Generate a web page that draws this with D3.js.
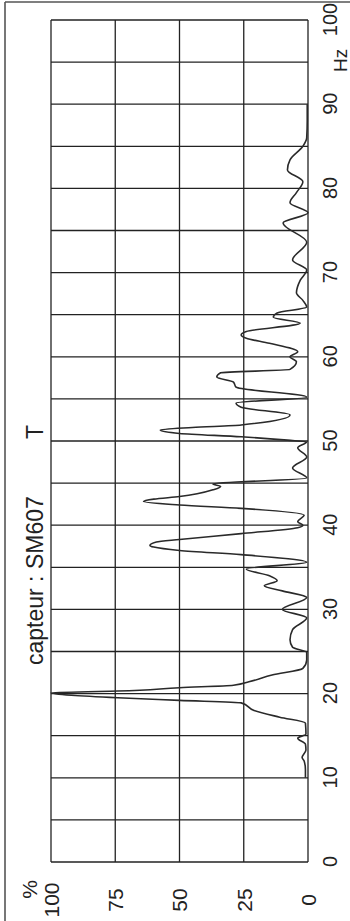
<!DOCTYPE html>
<html>
<head>
<meta charset="utf-8">
<script src="https://cdn.jsdelivr.net/npm/d3@7"></script>
<style>
  html, body { margin: 0; padding: 0; background: #fff; }
  svg { display: block; font-family: Arial, "Liberation Sans", sans-serif; }
</style>
</head>
<body>
<svg id="chart" width="350" height="921"></svg>
<script>
// spectrum (frequency in Hz, amplitude in %)
const freq = [10, 11, 12, 12.4, 13.3, 14.0, 14.7, 15.2, 16.5, 17.2, 18.0, 18.9, 19.2, 19.5, 20.1,
  20.3, 20.7, 21.0, 21.4, 22.2, 23.0, 24.0, 24.9, 25.5, 26.4, 27.6, 29.0, 30.0, 31.4,
  32.2, 32.8, 33.4, 34.0, 34.8, 35.6, 36.5, 37.0, 37.4, 37.6, 38.0, 38.3, 39.0, 39.7,
  40.0, 40.4, 41.2, 42.0, 42.4, 42.8, 43.1, 43.4, 44.2, 44.6, 44.9, 45.6, 46.8, 48.1,
  49.2, 49.9, 50.1, 50.5, 50.9, 51.3, 51.6, 51.9, 53.1, 54.0, 54.5, 55.2, 56.4, 57.0,
  57.6, 58.1, 58.5, 59.4, 60.0, 60.6, 61.6, 62.2, 62.6, 63.0, 64.0, 64.7, 65.2, 65.9,
  66.7, 67.6, 69.1, 70.3, 71.5, 73.6, 75.9, 77.1, 78.3, 79.5, 80.8, 82.2, 83.4, 85.0,
  86.0, 88.0, 90.0];
const ampl = [1, 1, 1.5, 2.3, 0.8, 1, 4, 0.8, 1, 11, 21, 26, 50, 74, 100,
  74, 50, 29, 23, 14, 2, 0.5, 0.5, 6, 7, 6, 0.5, 10, 0.5,
  10, 17, 12, 15, 24, 0.5, 26, 50, 60, 61.5, 59, 50, 26, 4,
  2, 4, 1.5, 26, 50, 64, 60, 50, 37, 34, 37, 0.5, 6, 0.5,
  4, 0.5, 8, 26, 50, 57.5, 45, 26, 7, 26, 28, 0.5, 28, 29,
  35.5, 34, 7, 4.5, 7, 4, 15, 24, 26, 24, 3, 13.5, 12, 0.5,
  2, 4.5, 3, 0.5, 6, 0.5, 9.7, 0, 7, 4.5, 2, 8, 7, 2,
  0.5, 0.3, 0.3];

const hzTicks = [0, 10, 20, 30, 40, 50, 60, 70, 80, 90, 100];
const hzGrid = d3.range(0, 101, 5);
const pctTicks = [0, 25, 50, 75, 100];
const title = 'capteur : SM607';
const titleRight = 'T';

// the scan is turned a quarter turn: draw it upright and rotate the group
const plotW = 842;   // Hz direction
const plotH = 257;   // % direction

const svg = d3.select('#chart');

// paper frame (left and top edges of the sheet)
svg.append('line').attr('x1', 5).attr('y1', 921).attr('x2', 5).attr('y2', 2)
  .attr('stroke', '#555').attr('stroke-width', 1.6);
svg.append('line').attr('x1', 5).attr('y1', 2).attr('x2', 350).attr('y2', 2)
  .attr('stroke', '#555').attr('stroke-width', 1.6);

const g = svg.append('g').attr('transform', 'translate(51,862) rotate(-90)');

const x = d3.scaleLinear().domain([0, 100]).range([0, plotW]);
const y = d3.scaleLinear().domain([0, 100]).range([plotH, 0]);

// grid
g.append('g').selectAll('line').data(hzGrid).join('line')
  .attr('x1', d => x(d)).attr('x2', d => x(d))
  .attr('y1', 0).attr('y2', plotH)
  .attr('stroke', '#222').attr('stroke-width', 1.3);
g.append('g').selectAll('line').data(pctTicks).join('line')
  .attr('x1', 0).attr('x2', plotW)
  .attr('y1', d => y(d)).attr('y2', d => y(d))
  .attr('stroke', '#222').attr('stroke-width', 1.3);

// Hz axis labels
const xAxis = g.append('g').attr('transform', `translate(0,${plotH})`)
  .call(d3.axisBottom(x).tickValues(hzTicks).tickSize(0).tickPadding(0));
xAxis.select('.domain').remove();
xAxis.selectAll('text')
  .attr('y', 22).attr('dy', '0.35em')
  .attr('font-size', 20).attr('fill', '#222');

g.append('text').attr('x', x(95.2)).attr('y', plotH + 32).attr('dy', '0.35em')
  .attr('text-anchor', 'middle').attr('font-size', 19).attr('fill', '#222').text('Hz');

// % axis labels
const yAxis = g.append('g')
  .call(d3.axisLeft(y).tickValues(pctTicks).tickSize(0).tickPadding(0));
yAxis.select('.domain').remove();
yAxis.selectAll('text')
  .attr('x', -38).attr('dy', '0.35em')
  .attr('text-anchor', 'middle')
  .attr('font-size', 21).attr('fill', '#222');

g.append('text').attr('x', -18).attr('y', y(100) - 21).attr('dy', '0.35em')
  .attr('text-anchor', 'end').attr('font-size', 21).attr('fill', '#222').text('%');

// title
g.append('text').attr('x', 197).attr('y', -16).attr('dy', '0.35em')
  .attr('font-size', 23).attr('fill', '#222').text(title);
g.append('text').attr('x', 423).attr('y', -16).attr('dy', '0.35em')
  .attr('font-size', 23).attr('fill', '#222').text(titleRight);

// spectrum curve
const pts = freq.map((f, i) => [f, ampl[i]]);
const line = d3.line()
  .x(d => x(d[0]))
  .y(d => y(d[1]))
  .curve(d3.curveMonotoneX);

g.append('path').datum(pts)
  .attr('d', line)
  .attr('fill', 'none')
  .attr('stroke', '#2a2a2a')
  .attr('stroke-width', 1.6)
  .attr('stroke-linejoin', 'round');
</script>
</body>
</html>
